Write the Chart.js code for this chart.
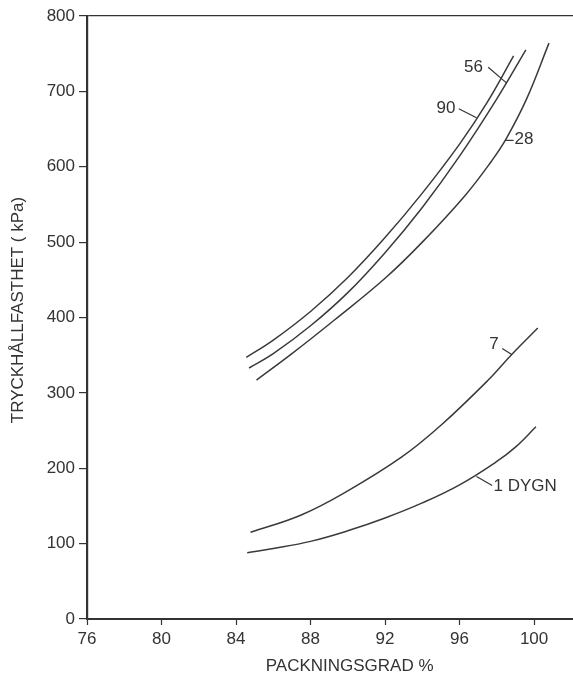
<!DOCTYPE html>
<html>
<head>
<meta charset="utf-8">
<script src="https://cdn.jsdelivr.net/npm/chart.js@4/dist/chart.umd.min.js"></script>
<style>
  html, body { margin: 0; padding: 0; background: #fff; }
  #wrap { width: 573px; height: 676px; }
</style>
</head>
<body>
<div id="wrap"><canvas id="myChart" width="573" height="676"></canvas></div>
<script>
// kurvor: tryckhallfasthet (kPa) mot packningsgrad (%), per lagringstid
const seriesNames = ['90', '56', '28', '7', '1 DYGN'];

const x90 = [84.55, 86, 88, 90, 92, 94, 96, 97.5, 98.9];
const y90 = [347, 370, 408, 453, 506, 565, 630, 686, 747];

const x56 = [84.7, 86, 88, 90, 92, 94, 96, 98, 99.56];
const y56 = [333, 352, 389, 433, 486, 546, 614, 690, 755];

const x28 = [85.1, 87, 89.3, 92, 94, 96.3, 97.7, 98.5, 99.6, 100.8];
const y28 = [317, 352, 397, 452, 500, 562, 607, 637, 690, 764];

const x7 = [84.78, 87.5, 90, 92.9, 95, 97.54, 98.8, 100.2];
const y7 = [115, 138, 170, 215, 257, 317, 351, 386];

const x1 = [84.6, 86, 88, 90, 92, 94, 96, 98, 99, 100.1];
const y1 = [88, 93.5, 103, 117, 134, 154, 178, 209, 228, 255];

const xTicks = [76, 80, 84, 88, 92, 96, 100];
const yTicks = [0, 100, 200, 300, 400, 500, 600, 700, 800];

const xTitle = 'PACKNINGSGRAD %';
const yTitle = 'TRYCKHÅLLFASTHET ( kPa)';

const ink = '#333';
const fontFam = '"Liberation Sans", Arial, sans-serif';

const zip = (xs, ys) => xs.map((x, i) => ({ x: x, y: ys[i] }));
const allX = [x90, x56, x28, x7, x1];
const allY = [y90, y56, y28, y7, y1];

const datasets = seriesNames.map((name, i) => ({
    label: name,
    data: zip(allX[i], allY[i]),
    borderColor: '#3a3a3a',
    borderWidth: 1.5,
    pointRadius: 0,
    fill: false,
    tension: 0.4
}));

// etiketter med hanvisningsstreck (datakoordinater)
const notes = [
    { text: '56', tx: 96.75, ty: 732, align: 'center', from: [97.54, 732], to: [98.53, 711] },
    { text: '90', tx: 95.27, ty: 677, align: 'center', from: [95.96, 677], to: [96.91, 665] },
    { text: '28', tx: 98.95, ty: 636, align: 'left', from: [98.47, 635], to: [98.9, 635] },
    { text: '7', tx: 97.85, ty: 365, align: 'center', from: [98.29, 359], to: [98.8, 351] },
    { text: '1 DYGN', tx: 97.82, ty: 176, align: 'left', from: [96.91, 189], to: [97.75, 177] }
];

const notesPlugin = {
    id: 'notes',
    afterDatasetsDraw(chart) {
        const c = chart.ctx;
        const xs = chart.scales.x, ys = chart.scales.y;
        c.save();
        c.strokeStyle = ink;
        c.fillStyle = ink;
        c.lineWidth = 1.2;
        c.font = '17px ' + fontFam;
        c.textBaseline = 'middle';
        notes.forEach(n => {
            c.beginPath();
            c.moveTo(xs.getPixelForValue(n.from[0]), ys.getPixelForValue(n.from[1]));
            c.lineTo(xs.getPixelForValue(n.to[0]), ys.getPixelForValue(n.to[1]));
            c.stroke();
            c.textAlign = n.align;
            c.fillText(n.text, xs.getPixelForValue(n.tx), ys.getPixelForValue(n.ty));
        });
        // axeltitlar
        c.textAlign = 'center';
        c.fillText(xTitle, xs.getPixelForValue(90.1), 666);
        c.translate(18, 310);
        c.rotate(-Math.PI / 2);
        c.fillText(yTitle, 0, 0);
        c.restore();
    }
};

Chart.defaults.font.family = fontFam;
Chart.defaults.font.size = 17;
Chart.defaults.color = ink;

const ctx = document.getElementById('myChart').getContext('2d');
const myChart = new Chart(ctx, {
    type: 'line',
    data: { datasets: datasets },
    plugins: [notesPlugin],
    options: {
        responsive: false,
        animation: false,
        layout: { padding: { top: 16, right: 0, left: 0, bottom: 0 } },
        plugins: {
            legend: { display: false },
            tooltip: { enabled: false }
        },
        scales: {
            x: {
                type: 'linear',
                min: 76,
                max: 102.09,
                afterBuildTicks: (s) => { s.ticks = xTicks.map(v => ({ value: v })); },
                afterFit: (s) => { s.height = 57; },
                border: { color: ink, width: 2 },
                grid: { drawOnChartArea: false, tickLength: 6, tickColor: ink, tickWidth: 1.2 },
                ticks: { padding: 4, maxRotation: 0, autoSkip: false }
            },
            y: {
                type: 'linear',
                min: 0,
                max: 800,
                afterBuildTicks: (s) => { s.ticks = yTicks.map(v => ({ value: v })); },
                afterFit: (s) => { s.width = 87; },
                border: { color: ink, width: 2.2 },
                grid: {
                    drawOnChartArea: true,
                    tickLength: 8,
                    tickColor: ink,
                    tickWidth: 1.2,
                    color: (c) => c.tick && c.tick.value === 800 ? ink : 'rgba(0,0,0,0)',
                    lineWidth: 1.2
                },
                ticks: { padding: 4 }
            }
        }
    }
});
</script>
</body>
</html>
